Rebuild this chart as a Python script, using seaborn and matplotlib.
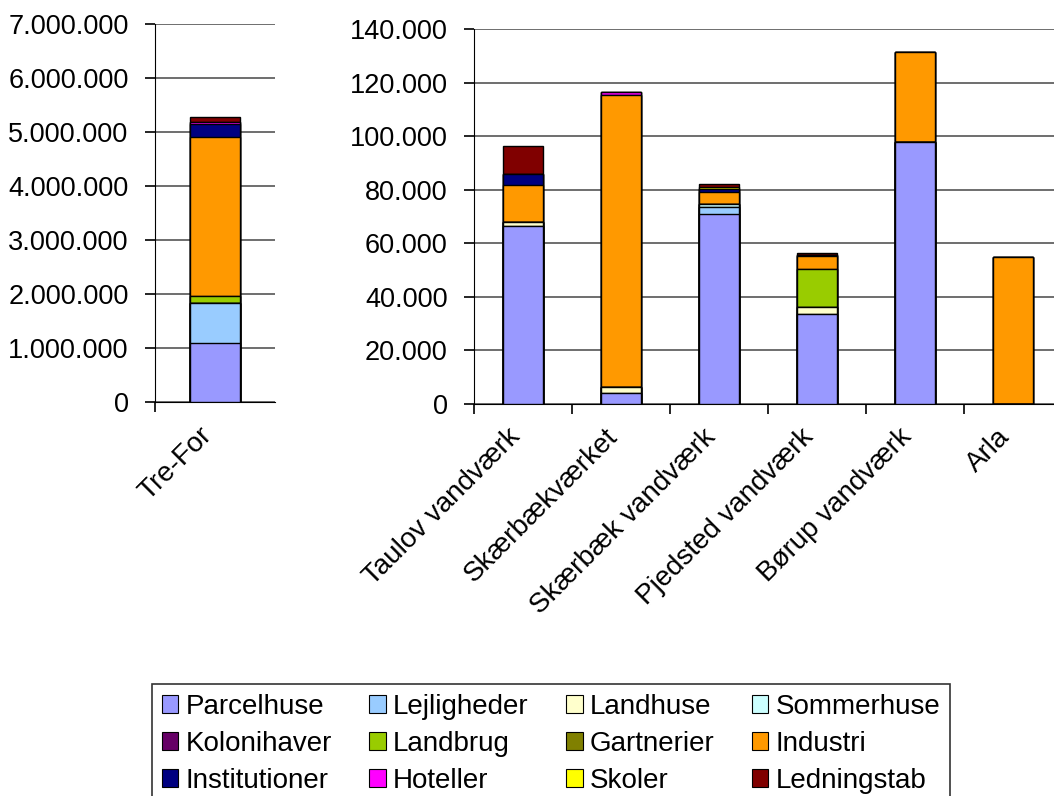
import numpy as np
import pandas as pd
import matplotlib
matplotlib.use("Agg")
import matplotlib.pyplot as plt
import matplotlib.transforms as mtransforms
from matplotlib.patches import Patch
from matplotlib.ticker import FuncFormatter, FixedLocator
import seaborn as sns

# ---------------- DATA ---------------- #
series = ['Parcelhuse', 'Lejligheder', 'Landhuse', 'Sommerhuse',
          'Kolonihaver', 'Landbrug', 'Gartnerier', 'Industri',
          'Institutioner', 'Hoteller', 'Skoler', 'Ledningstab']
colors = ['#9999FF', '#99CCFF', '#FFFFCC', '#CCFFFF',
          '#660066', '#99CC00', '#808000', '#FF9900',
          '#000080', '#FF00FF', '#FFFF00', '#800000']

# left panel: Tre-For (m3)
left_cats = ['Tre-For']
tre_for = [1090000, 740000, 0, 0, 0, 130000, 0, 2940000, 240000, 40000, 0, 90000]

# right panel: the smaller waterworks (m3)
right_cats = ['Taulov vandværk', 'Skærbækværket', 'Skærbæk vandværk',
              'Pjedsted vandværk', 'Børup vandværk', 'Arla']
parcelhuse    = [66300, 4100, 71100, 33500, 98000, 0]
lejligheder   = [0, 0, 2300, 0, 0, 0]
landhuse      = [1800, 2200, 0, 2600, 0, 0]
sommerhuse    = [0, 0, 1100, 0, 0, 0]
kolonihaver   = [0, 0, 0, 0, 0, 0]
landbrug      = [0, 0, 0, 14200, 0, 0]
gartnerier    = [0, 0, 0, 0, 0, 0]
industri      = [13800, 109200, 4800, 4800, 33500, 55000]
institutioner = [3800, 0, 900, 500, 0, 0]
hoteller      = [0, 1100, 0, 0, 0, 0]
skoler        = [0, 0, 800, 0, 0, 0]
ledningstab   = [10800, 0, 1200, 600, 0, 0]

right_df = pd.DataFrame({
    'Parcelhuse': parcelhuse, 'Lejligheder': lejligheder, 'Landhuse': landhuse,
    'Sommerhuse': sommerhuse, 'Kolonihaver': kolonihaver, 'Landbrug': landbrug,
    'Gartnerier': gartnerier, 'Industri': industri, 'Institutioner': institutioner,
    'Hoteller': hoteller, 'Skoler': skoler, 'Ledningstab': ledningstab,
}, index=right_cats)
left_df = pd.DataFrame([tre_for], columns=series, index=left_cats)

# ---------------- STYLE ---------------- #
sns.set_style("white")
plt.rcParams['font.family'] = ['Liberation Sans', 'DejaVu Sans']
plt.rcParams['font.size'] = 19.5
plt.rcParams['text.color'] = 'black'
plt.rcParams['xtick.color'] = 'black'
plt.rcParams['ytick.color'] = 'black'
plt.rcParams['axes.labelcolor'] = 'black'


def dotted(v, pos):
    return f"{int(round(v)):,}".replace(',', '.')


def stacked(fig, ax, df, width):
    cum = df[series].cumsum(axis=1)
    # draw tallest first so lower segments paint over them
    for name, col in reversed(list(zip(series, colors))):
        sns.barplot(x=list(df.index), y=cum[name].values, color=col,
                    saturation=1, width=width, edgecolor='black',
                    linewidth=1, ax=ax, zorder=3)
    n = len(df.index)
    ax.set_xlim(-0.5, n - 0.5)
    ax.set_xlabel('')
    ax.set_ylabel('')
    ax.yaxis.set_major_formatter(FuncFormatter(dotted))
    ax.grid(axis='y', color='#555555', linewidth=1.2, zorder=0)
    ax.set_axisbelow(True)
    for s in ['top', 'right']:
        ax.spines[s].set_visible(False)
    ax.spines['left'].set_color('black')
    ax.spines['bottom'].set_color('black')
    ax.tick_params(axis='y', which='major', direction='out', length=7,
                   width=1.2, pad=12, left=True, labelsize=19.5)
    ax.xaxis.set_minor_locator(FixedLocator([i - 0.5 for i in range(n)]))
    ax.tick_params(axis='x', which='minor', direction='out', length=7,
                   width=1.2, bottom=True)
    ax.tick_params(axis='x', which='major', length=0, pad=21, labelsize=20)
    shift = mtransforms.ScaledTranslation(-7 / 100, 0, fig.dpi_scale_trans)
    for lab in ax.get_xticklabels():
        lab.set_rotation(45)
        lab.set_ha('right')
        lab.set_va('center')
        lab.set_rotation_mode('anchor')
        lab.set_transform(lab.get_transform() + shift)


fig = plt.figure(figsize=(10.54, 7.96), dpi=100)
ax1 = fig.add_axes([155 / 1054, 1 - 402 / 796, 120 / 1054, 378 / 796])
ax2 = fig.add_axes([474 / 1054, 1 - 404 / 796, 588 / 1054, 375 / 796])

stacked(fig, ax1, left_df, 0.42)
ax1.set_ylim(0, 7000000)
ax1.set_yticks(np.arange(0, 7000001, 1000000))

stacked(fig, ax2, right_df, 0.4)
ax2.set_ylim(0, 140000)
ax2.set_yticks(np.arange(0, 140001, 20000))

# legend, laid out row by row like the original
handles = [Patch(facecolor=c, edgecolor='black', linewidth=0.8) for c in colors]
order = [i + 4 * r for i in range(4) for r in range(3)]
leg = fig.legend([handles[i] for i in order], [series[i] for i in order],
                 ncol=4, loc='upper left',
                 bbox_to_anchor=(152 / 1054, 1 - 684 / 796),
                 frameon=True, fancybox=False, fontsize=20,
                 handlelength=0.6, handleheight=0.6, handletextpad=0.25,
                 columnspacing=1.35, labelspacing=0.4, borderpad=0.35,
                 borderaxespad=0)
leg.get_frame().set_edgecolor('black')
leg.get_frame().set_linewidth(1.2)

fig.savefig('out.png', dpi=100)
